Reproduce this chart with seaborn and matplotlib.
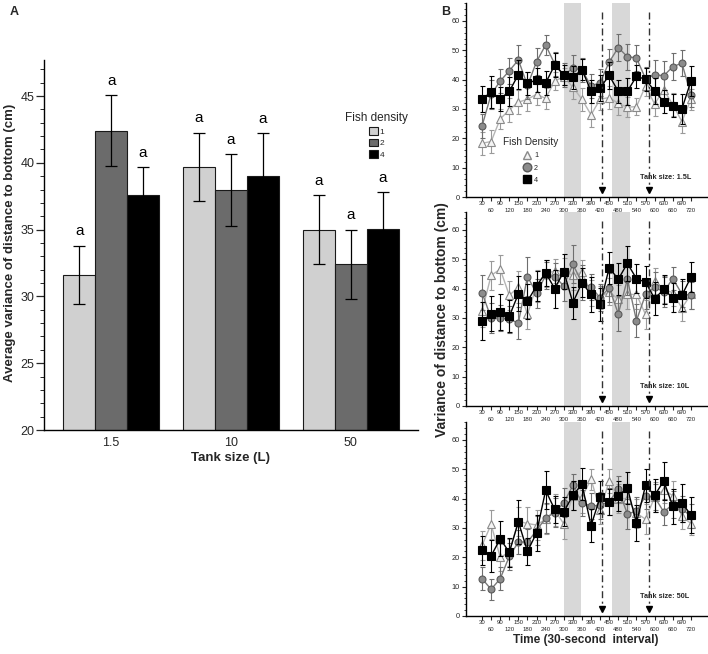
import numpy as np
import pandas as pd
import matplotlib
matplotlib.use("Agg")
import matplotlib.pyplot as plt
import matplotlib.transforms as mtransforms
from matplotlib.lines import Line2D
from matplotlib.ticker import MultipleLocator
from matplotlib.container import BarContainer
import seaborn as sns

# ---------------- data: panel A ----------------
tank_sizes = ["1.5", "10", "50"]
densities = ["1", "2", "4"]
mean_d1 = [31.6, 39.7, 35.0]
mean_d2 = [42.4, 37.95, 32.4]
mean_d4 = [37.6, 39.0, 35.05]
err_d1 = [2.2, 2.55, 2.6]
err_d2 = [2.65, 2.7, 2.6]
err_d4 = [2.1, 3.2, 2.75]
letters = ["a", "a", "a"]

# ---------------- data: panel B ----------------
times = [30, 60, 90, 120, 150, 180, 210, 240, 270, 300, 330, 360,
         390, 420, 450, 480, 510, 540, 570, 600, 630, 660, 690, 720]
tank_labels = ["Tank size: 1.5L", "Tank size: 10L", "Tank size: 50L"]

# 1.5 L
s15_d1 = [18.3, 18.9, 26.6, 29.7, 32.3, 33.3, 35.0, 33.6, 39.5, 41.0, 37.4, 33.3,
          28.0, 33.3, 33.9, 31.9, 30.6, 30.8, 37.8, 31.7, 36.5, 31.5, 25.7, 33.3]
s15_d2 = [24.2, 35.0, 39.5, 43.0, 46.7, 38.0, 46.1, 51.8, 45.3, 41.5, 43.9, 43.3,
          37.8, 39.0, 46.0, 50.9, 47.8, 47.4, 40.3, 41.7, 41.3, 44.4, 45.6, 34.8]
s15_d4 = [33.3, 35.8, 33.4, 36.0, 41.7, 38.7, 39.9, 38.8, 45.0, 41.6, 40.8, 43.4,
          36.0, 37.2, 41.4, 36.0, 36.0, 41.1, 40.1, 36.1, 32.5, 31.1, 30.0, 39.5]
e15_d1 = [4.0, 4.0, 3.5, 4.0, 4.0, 4.0, 3.5, 3.5, 3.0, 3.0, 4.0, 4.0,
          4.0, 3.5, 4.0, 4.0, 3.5, 3.0, 3.5, 4.0, 4.0, 4.0, 4.0, 3.5]
e15_d2 = [4.0, 5.0, 4.0, 4.5, 5.0, 4.5, 4.5, 3.5, 4.0, 4.0, 4.5, 4.0,
          4.0, 4.5, 4.5, 4.5, 4.5, 4.5, 4.0, 5.0, 5.0, 4.5, 4.5, 4.0]
e15_d4 = [4.5, 5.5, 4.0, 5.0, 5.0, 4.0, 4.0, 4.0, 4.0, 3.5, 4.0, 3.5,
          4.0, 4.5, 4.5, 4.0, 4.5, 4.0, 4.0, 4.5, 4.0, 4.0, 5.0, 5.0]

# 10 L
s10_d1 = [32.3, 44.5, 46.6, 37.7, 40.5, 31.2, 41.0, 45.1, 46.0, 46.0, 44.5, 45.6,
          38.5, 37.0, 39.0, 36.3, 38.0, 38.0, 31.2, 42.6, 39.7, 38.6, 33.4, 38.0]
s10_d2 = [38.6, 30.0, 30.0, 29.5, 28.3, 44.1, 38.4, 44.5, 44.1, 40.9, 48.3, 42.0,
          40.5, 36.9, 40.3, 31.4, 43.2, 29.1, 38.0, 40.5, 38.9, 43.4, 38.2, 37.7]
s10_d4 = [28.9, 31.4, 32.0, 30.6, 38.2, 35.7, 40.9, 45.4, 40.0, 45.8, 35.2, 42.0,
          38.0, 34.6, 47.1, 43.2, 48.6, 43.4, 42.2, 36.6, 39.7, 36.9, 37.7, 43.9]
e10_d1 = [5.5, 5.0, 5.0, 5.0, 5.5, 5.0, 5.5, 4.5, 4.0, 4.5, 5.0, 4.0,
          4.5, 4.0, 4.5, 5.0, 5.0, 5.0, 5.0, 4.5, 4.5, 4.5, 4.5, 5.0]
e10_d2 = [6.0, 5.0, 4.5, 4.5, 5.5, 6.5, 5.0, 4.5, 4.5, 5.0, 6.5, 6.0,
          4.5, 4.5, 5.0, 6.0, 5.5, 5.5, 5.0, 5.0, 5.0, 4.0, 4.5, 4.5]
e10_d4 = [6.5, 6.0, 6.0, 5.5, 6.0, 6.0, 5.0, 4.5, 6.5, 6.0, 5.5, 5.0,
          6.0, 5.5, 5.5, 5.5, 6.0, 5.0, 5.5, 5.5, 5.0, 5.0, 5.5, 5.0]

# 50 L
s50_d1 = [24.1, 31.2, 20.0, 21.7, 32.3, 31.5, 31.0, 33.0, 36.0, 31.4, 41.0, 40.5,
          46.6, 36.0, 46.0, 40.0, 40.0, 35.0, 33.0, 40.5, 43.0, 41.0, 34.0, 31.5]
s50_d2 = [12.7, 9.1, 12.7, 20.3, 25.2, 25.2, 29.1, 33.4, 35.2, 38.6, 44.5, 38.6,
          37.5, 37.7, 39.0, 43.2, 34.8, 35.7, 40.9, 40.5, 35.5, 38.0, 36.5, 34.0]
s50_d4 = [22.4, 20.5, 26.3, 21.7, 32.1, 22.0, 28.3, 42.8, 36.3, 35.5, 41.1, 44.9,
          30.8, 40.5, 38.9, 40.9, 43.7, 31.7, 44.5, 41.1, 46.0, 37.4, 38.6, 34.4]
e50_d1 = [5.0, 5.0, 4.5, 4.5, 5.0, 5.5, 5.0, 5.0, 5.5, 5.0, 5.0, 5.5,
          3.5, 4.5, 4.0, 5.0, 5.0, 5.0, 5.0, 5.0, 4.5, 5.0, 4.5, 4.0]
e50_d2 = [4.0, 3.5, 4.0, 4.5, 4.0, 4.5, 5.0, 5.0, 5.0, 5.0, 4.0, 4.5,
          4.5, 4.5, 4.5, 4.5, 5.0, 5.0, 4.5, 4.5, 4.5, 4.5, 4.5, 4.0]
e50_d4 = [5.0, 5.5, 6.0, 5.0, 7.5, 4.5, 6.0, 6.5, 4.5, 5.0, 5.0, 5.5,
          5.5, 5.5, 4.5, 5.0, 5.5, 6.0, 5.5, 5.5, 6.5, 6.0, 6.5, 6.0]

shade_spans = [(300, 358), (459, 518)]
event_times = [425, 580]

# ---------------- styling ----------------
sns.set_theme(style="white")
plt.rcParams["font.family"] = ["Liberation Sans", "DejaVu Sans"]
plt.rcParams["axes.linewidth"] = 1.0

bar_colors = ["#d0d0d0", "#6b6b6b", "#000000"]

fig = plt.figure(figsize=(7.08, 6.54), dpi=100)
W, H = 708.0, 654.0

def rect(l, t, r, b):
    return [l / W, 1 - b / H, (r - l) / W, (b - t) / H]

# ================= Panel A =================
axA = fig.add_axes(rect(44, 60, 418, 430))
dfA = pd.DataFrame({
    "tank": tank_sizes * 3,
    "density": [densities[0]] * 3 + [densities[1]] * 3 + [densities[2]] * 3,
    "mean": mean_d1 + mean_d2 + mean_d4,
    "err": err_d1 + err_d2 + err_d4,
})
sns.barplot(data=dfA, x="tank", y="mean", hue="density", order=tank_sizes,
            hue_order=densities, palette=bar_colors, edgecolor="#1a1a1a",
            linewidth=0.8, errorbar=None, width=0.8, legend=False, ax=axA)

bar_conts = [c for c in axA.containers if isinstance(c, BarContainer)]
errs = [err_d1, err_d2, err_d4]
means = [mean_d1, mean_d2, mean_d4]
for hi, cont in enumerate(bar_conts):
    for ti, bar in enumerate(cont.patches):
        xc = bar.get_x() + bar.get_width() / 2
        m = means[hi][ti]
        e = errs[hi][ti]
        axA.errorbar(xc, m, yerr=e, fmt="none", ecolor="black", elinewidth=0.9,
                     capsize=4, capthick=0.9, zorder=5)
        axA.text(xc, m + e + 0.55, letters[ti], ha="center", va="bottom",
                 fontsize=11, color="black")

axA.set_ylim(20, 47.7)
axA.set_xlim(-0.56, 2.56)
axA.yaxis.set_major_locator(MultipleLocator(5))
axA.yaxis.set_minor_locator(MultipleLocator(1))
axA.tick_params(axis="y", which="major", direction="out", length=6, width=0.9,
                labelsize=9, pad=1, left=True)
axA.tick_params(axis="y", which="minor", direction="out", length=3, width=0.7, left=True)
axA.tick_params(axis="x", length=0, labelsize=9, pad=5)
for sp in ["top", "right"]:
    axA.spines[sp].set_visible(False)
axA.spines["left"].set_color("black")
axA.spines["bottom"].set_color("black")
axA.set_xlabel("Tank size (L)", fontsize=9.5, fontweight="bold", labelpad=2)
axA.set_ylabel("")
fig.text(10 / W, 1 - 243 / H, "Average variance of distance to bottom (cm)",
         rotation=90, ha="center", va="center", fontsize=9.5, fontweight="bold")
leg = axA.legend(bar_conts, densities, title="Fish density", frameon=False,
                 loc="upper left", bbox_to_anchor=(0.795, 0.87), fontsize=6,
                 title_fontsize=8.5, handlelength=1.0, handleheight=1.0,
                 handletextpad=0.25, labelspacing=0.35, borderpad=0)
leg._legend_box.align = "center"

fig.text(10 / W, 1 - 12 / H, "A", fontsize=9, fontweight="bold", ha="left", va="center")
fig.text(441 / W, 1 - 12 / H, "B", fontsize=9, fontweight="bold", ha="left", va="center")

# ================= Panel B =================
series_sets = [
    (s15_d1, s15_d2, s15_d4, e15_d1, e15_d2, e15_d4),
    (s10_d1, s10_d2, s10_d4, e10_d1, e10_d2, e10_d4),
    (s50_d1, s50_d2, s50_d4, e50_d1, e50_d2, e50_d4),
]
bottoms_px = [197, 406, 616]
styles = [
    dict(marker="^", line="#b5b5b5", mfc="#f4f4f4", mec="#8a8a8a", ms=5.2, ecol="#9a9a9a"),
    dict(marker="o", line="#7a7a7a", mfc="#8c8c8c", mec="#5a5a5a", ms=5.0, ecol="#6e6e6e"),
    dict(marker="s", line="#000000", mfc="#000000", mec="#000000", ms=5.2, ecol="#000000"),
]

for pi, (sset, bpx) in enumerate(zip(series_sets, bottoms_px)):
    ax = fig.add_axes(rect(466, bpx - 194, 707, bpx))
    for a, b in shade_spans:
        ax.axvspan(a, b, color="#d8d8d8", lw=0, zorder=0)
    for si in range(3):
        vals = sset[si]
        ev = sset[si + 3]
        st = styles[si]
        ax.errorbar(times, vals, yerr=ev, fmt="none", ecolor=st["ecol"],
                    elinewidth=0.8, capsize=1.8, capthick=0.8, zorder=2 + si)
        sns.lineplot(x=times, y=vals, ax=ax, color=st["line"], linewidth=1.0,
                     marker=st["marker"], markersize=st["ms"],
                     markerfacecolor=st["mfc"], markeredgecolor=st["mec"],
                     markeredgewidth=0.8, zorder=3 + si, legend=False)
    for tx in event_times:
        ax.plot([tx, tx], [63, 3.5], color="#333333", lw=1.0,
                dashes=(5, 2.5, 1.5, 2.5), zorder=6)
        ax.plot([tx], [2.4], marker="v", color="black", markersize=5, zorder=7)
    ax.set_xlim(-23, 773)
    ax.set_ylim(0, 66.1)
    ax.set_xticks(times)
    ax.set_xticklabels([str(t) for t in times])
    ax.yaxis.set_major_locator(MultipleLocator(10))
    ax.yaxis.set_minor_locator(MultipleLocator(2))
    ax.tick_params(axis="x", direction="out", length=2.8, width=0.8, labelsize=4.3,
                   pad=0.3, bottom=True)
    ax.tick_params(axis="y", which="major", direction="out", length=3, width=0.8,
                   labelsize=5.3, pad=1.2, left=True)
    ax.tick_params(axis="y", which="minor", direction="out", length=1.6, width=0.6, left=True)
    off = mtransforms.ScaledTranslation(0, -4.6 / 72, fig.dpi_scale_trans)
    for lab in ax.get_xticklabels()[1::2]:
        lab.set_transform(lab.get_transform() + off)
    for sp in ["top", "right"]:
        ax.spines[sp].set_visible(False)
    ax.spines["left"].set_color("black")
    ax.spines["bottom"].set_color("black")
    ax.set_xlabel("")
    ax.set_ylabel("")
    ax.grid(False)
    ax.text(0.72, 0.1, tank_labels[pi], transform=ax.transAxes, fontsize=5.2,
            fontweight="bold", ha="left", va="center")
    if pi == 0:
        handles = [Line2D([], [], linestyle="none", marker=st["marker"],
                          markersize=st["ms"] + 1.2, markerfacecolor=st["mfc"],
                          markeredgecolor=st["mec"]) for st in styles]
        lg = ax.legend(handles, densities, title="Fish Density", frameon=False,
                       loc="upper left", bbox_to_anchor=(0.14, 0.33), fontsize=5.2,
                       title_fontsize=7.2, handlelength=1.0, handletextpad=0.4,
                       labelspacing=0.75, borderpad=0)
        lg._legend_box.align = "center"

fig.text(442 / W, 1 - 320 / H, "Variance of distance to bottom (cm)", rotation=90,
         ha="center", va="center", fontsize=10, fontweight="bold")
fig.text(586 / W, 1 - 640 / H, "Time (30-second  interval)", ha="center", va="center",
         fontsize=8.5, fontweight="bold")

fig.savefig("out.png", dpi=100)
